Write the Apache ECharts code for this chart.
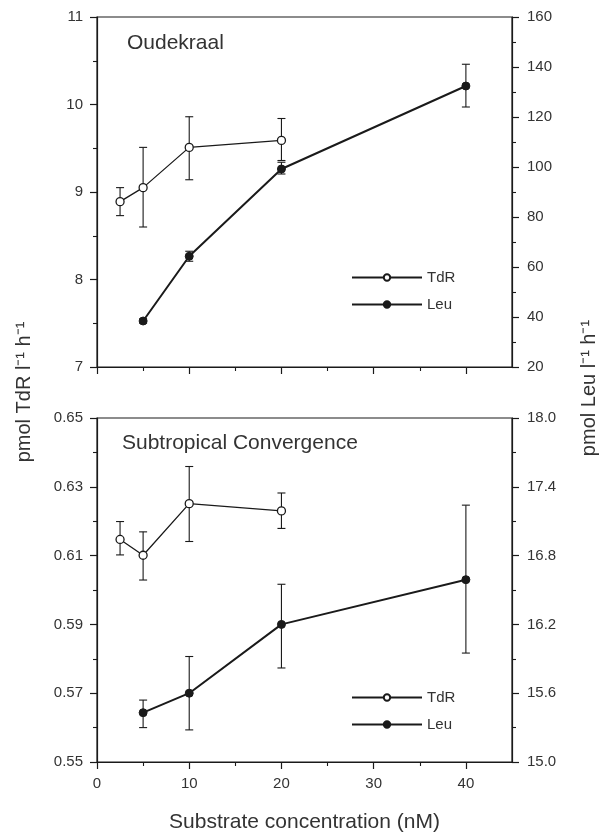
<!DOCTYPE html>
<html>
<head>
<meta charset="utf-8">
<script src="https://cdn.jsdelivr.net/npm/echarts@6/dist/echarts.min.js"></script>
<style>html,body{margin:0;padding:0;background:#fff;}#c{width:602px;height:834px;}</style>
</head>
<body>
<div id="c"></div>
<script>
// ---- Data ----
// Oudekraal panel
const oudTdrX  = [2.5, 5, 10, 20];
const oudTdrY  = [8.89, 9.05, 9.51, 9.59];
const oudTdrLo = [8.73, 8.60, 9.14, 9.36];
const oudTdrHi = [9.05, 9.51, 9.86, 9.84];

const oudLeuX  = [5, 10, 20, 40];
const oudLeuY  = [38.4, 64.3, 99.2, 132.4];
const oudLeuLo = [37.6, 62.3, 97.2, 124.0];
const oudLeuHi = [39.2, 66.3, 101.9, 141.1];

// Subtropical Convergence panel
const stcTdrX  = [2.5, 5, 10, 20];
const stcTdrY  = [0.6147, 0.6101, 0.6251, 0.6230];
const stcTdrLo = [0.6102, 0.6029, 0.6141, 0.6179];
const stcTdrHi = [0.6199, 0.6169, 0.6359, 0.6282];

const stcLeuX  = [5, 10, 20, 40];
const stcLeuY  = [15.43, 15.60, 16.20, 16.59];
const stcLeuLo = [15.30, 15.28, 15.82, 15.95];
const stcLeuHi = [15.54, 15.92, 16.55, 17.24];

// Tick values
const xTicks        = [0, 10, 20, 30, 40];
const xMinor        = [5, 15, 25, 35];
const oudLeftTicks  = [7, 8, 9, 10, 11];
const oudLeftMinor  = [7.5, 8.5, 9.5, 10.5];
const oudRightTicks = [20, 40, 60, 80, 100, 120, 140, 160];
const oudRightMinor = [30, 50, 70, 90, 110, 130, 150];
const stcLeftTicks  = [0.55, 0.57, 0.59, 0.61, 0.63, 0.65];
const stcLeftMinor  = [0.56, 0.58, 0.60, 0.62, 0.64];
const stcRightTicks = [15.0, 15.6, 16.2, 16.8, 17.4, 18.0];
const stcRightMinor = [15.3, 15.9, 16.5, 17.1, 17.7];

// Text
const panelTitles = ['Oudekraal', 'Subtropical Convergence'];
const seriesNames = ['TdR', 'Leu'];
const xTitle = 'Substrate concentration (nM)';
const yLeftTitle = 'pmol TdR l\u207B\u00B9 h\u207B\u00B9';
const yRightTitle = 'pmol Leu l\u207B\u00B9 h\u207B\u00B9';

// ---- Chart ----
const FONT = "'Liberation Sans', Arial, sans-serif";
const INK = '#1a1a1a';
const TXT = '#333';

function pairs(xs, ys) { return xs.map((x, i) => [x, ys[i]]); }
function errs(xs, lo, hi) { return xs.map((x, i) => [x, lo[i], hi[i]]); }

function errRender(params, api) {
  const x = api.value(0), lo = api.value(1), hi = api.value(2);
  const a = api.coord([x, lo]), b = api.coord([x, hi]);
  const w = 4;
  const st = { stroke: INK, lineWidth: 1.1 };
  return { type: 'group', children: [
    { type: 'line', shape: { x1: a[0], y1: a[1], x2: b[0], y2: b[1] }, style: st },
    { type: 'line', shape: { x1: a[0] - w, y1: a[1], x2: a[0] + w, y2: a[1] }, style: st },
    { type: 'line', shape: { x1: b[0] - w, y1: b[1], x2: b[0] + w, y2: b[1] }, style: st }
  ]};
}

function xMain(gi, showLabels) {
  return {
    type: 'value', gridIndex: gi, min: 0, max: 45, position: 'bottom',
    axisLine: { show: true, lineStyle: { color: INK, width: 1.2 } },
    axisTick: { show: true, customValues: xTicks, length: 7, inside: false, lineStyle: { color: INK, width: 1.2 } },
    axisLabel: { show: showLabels, customValues: xTicks, margin: 14, color: TXT, fontSize: 15, fontFamily: FONT },
    splitLine: { show: false },
    name: showLabels ? xTitle : '', nameLocation: 'middle', nameGap: 50,
    nameTextStyle: { fontSize: 21, color: TXT, fontFamily: FONT }
  };
}
function xMinorAxis(gi) {
  return {
    type: 'value', gridIndex: gi, min: 0, max: 45, position: 'bottom',
    axisLine: { show: false },
    axisTick: { show: true, customValues: xMinor, length: 4, lineStyle: { color: INK, width: 1.1 } },
    axisLabel: { show: false }, splitLine: { show: false }
  };
}
function yMain(gi, pos, min, max, ticks, fmt, margin) {
  return {
    type: 'value', gridIndex: gi, position: pos, min: min, max: max,
    axisLine: { show: true, lineStyle: { color: INK, width: 1.2 } },
    axisTick: { show: true, customValues: ticks, length: 7, lineStyle: { color: INK, width: 1.2 } },
    axisLabel: { show: true, customValues: ticks, formatter: fmt, margin: margin, color: TXT, fontSize: 15, fontFamily: FONT },
    splitLine: { show: false }
  };
}
function yMinorAxis(gi, pos, min, max, ticks) {
  return {
    type: 'value', gridIndex: gi, position: pos, min: min, max: max,
    axisLine: { show: false },
    axisTick: { show: true, customValues: ticks, length: 4, lineStyle: { color: INK, width: 1.1 } },
    axisLabel: { show: false }, splitLine: { show: false }
  };
}

function tdrLine(xi, yi, data) {
  return {
    type: 'line', name: seriesNames[0], xAxisIndex: xi, yAxisIndex: yi, data: data,
    symbol: 'circle', symbolSize: 8, z: 5,
    lineStyle: { color: INK, width: 1.3 },
    itemStyle: { color: '#fff', borderColor: INK, borderWidth: 1.3 }
  };
}
function leuLine(xi, yi, data) {
  return {
    type: 'line', name: seriesNames[1], xAxisIndex: xi, yAxisIndex: yi, data: data,
    symbol: 'circle', symbolSize: 8, z: 5,
    lineStyle: { color: INK, width: 2 },
    itemStyle: { color: INK, borderColor: INK, borderWidth: 1 }
  };
}
function errSeries(xi, yi, data) {
  return {
    type: 'custom', xAxisIndex: xi, yAxisIndex: yi, data: data, z: 3,
    renderItem: errRender, encode: { x: 0, y: [1, 2] }, silent: true
  };
}
function legendAt(top) {
  return {
    data: seriesNames, orient: 'vertical', left: 346, top: top,
    itemWidth: 70, itemHeight: 8, itemGap: 12,
    textStyle: { fontSize: 15, color: TXT, fontFamily: FONT }, selectedMode: false
  };
}

const chart = echarts.init(document.getElementById('c'), null, { renderer: 'canvas' });
chart.setOption({
  animation: false,
  backgroundColor: '#fff',
  title: [
    { text: panelTitles[0], left: 127, top: 33, padding: 0, textStyle: { fontSize: 21, fontWeight: 'normal', color: TXT, fontFamily: FONT } },
    { text: panelTitles[1], left: 122, top: 433, padding: 0, textStyle: { fontSize: 21, fontWeight: 'normal', color: TXT, fontFamily: FONT } }
  ],
  legend: [legendAt(265), legendAt(685)],
  grid: [
    { left: 97, right: 90, top: 17, height: 350, show: true, borderColor: INK, borderWidth: 1.2, backgroundColor: 'transparent' },
    { left: 97, right: 90, top: 418, height: 346, show: true, borderColor: INK, borderWidth: 1.2, backgroundColor: 'transparent' }
  ],
  xAxis: [xMain(0, false), xMinorAxis(0), xMain(1, true), xMinorAxis(1)],
  yAxis: [
    yMain(0, 'left', 7, 11, oudLeftTicks, v => String(v), 14),
    yMinorAxis(0, 'left', 7, 11, oudLeftMinor),
    yMain(0, 'right', 20, 160, oudRightTicks, v => String(v), 15),
    yMinorAxis(0, 'right', 20, 160, oudRightMinor),
    yMain(1, 'left', 0.55, 0.65, stcLeftTicks, v => v.toFixed(2), 14),
    yMinorAxis(1, 'left', 0.55, 0.65, stcLeftMinor),
    yMain(1, 'right', 15, 18, stcRightTicks, v => v.toFixed(1), 15),
    yMinorAxis(1, 'right', 15, 18, stcRightMinor)
  ],
  graphic: [
    { type: 'text', x: 24, y: 392, rotation: Math.PI / 2,
      style: { text: yLeftTitle, fill: TXT, font: '20px ' + FONT, align: 'center', verticalAlign: 'middle' } },
    { type: 'text', x: 589, y: 388, rotation: Math.PI / 2,
      style: { text: yRightTitle, fill: TXT, font: '20px ' + FONT, align: 'center', verticalAlign: 'middle' } }
  ],
  series: [
    errSeries(0, 0, errs(oudTdrX, oudTdrLo, oudTdrHi)),
    errSeries(0, 2, errs(oudLeuX, oudLeuLo, oudLeuHi)),
    tdrLine(0, 0, pairs(oudTdrX, oudTdrY)),
    leuLine(0, 2, pairs(oudLeuX, oudLeuY)),
    errSeries(2, 4, errs(stcTdrX, stcTdrLo, stcTdrHi)),
    errSeries(2, 6, errs(stcLeuX, stcLeuLo, stcLeuHi)),
    tdrLine(2, 4, pairs(stcTdrX, stcTdrY)),
    leuLine(2, 6, pairs(stcLeuX, stcLeuY))
  ]
});
</script>
</body>
</html>
